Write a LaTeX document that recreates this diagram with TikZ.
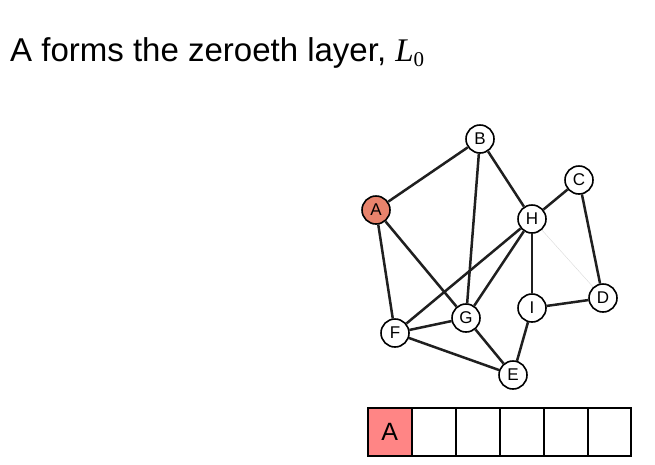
\documentclass[tikz,border=0pt]{standalone}
\usepackage{fontspec}
\setmainfont{Liberation Sans}
\newfontfamily\serifL{Liberation Serif}
\usetikzlibrary{backgrounds}
\definecolor{nodeA}{HTML}{E8836C}
\definecolor{cellA}{HTML}{FF8585}
\begin{document}
\begin{tikzpicture}[x=1pt,y=-1pt,
  vtx/.style={circle,draw=black,line width=1.6pt,fill=white,minimum size=28pt,inner sep=0pt,font=\fontsize{17}{17}\selectfont},
  edge/.style={line width=2.5pt,draw=black!88},
  cell/.style={draw=black,line width=1.6pt,minimum width=44pt,minimum height=48pt,inner sep=0pt,anchor=north west,font=\fontsize{25}{25}\selectfont}]
\useasboundingbox (0,0) rectangle (655,464);
\node[anchor=base west,inner sep=0pt,font=\fontsize{33}{33}\selectfont] (title) at (10,61) {A forms the zeroeth layer, {\serifL\itshape L}{\serifL\fontsize{21}{21}\selectfont\raisebox{-5pt}{0}}};
\node[vtx] (B) at (480,139) {B};
\node[vtx] (C) at (579,180) {C};
\node[vtx,fill=nodeA] (A) at (376,210) {A};
\node[vtx] (H) at (532,219) {H};
\node[vtx] (D) at (603,298) {D};
\node[vtx] (I) at (532,308) {I};
\node[vtx] (G) at (466,318) {G};
\node[vtx] (F) at (395,333) {F};
\node[vtx] (E) at (513,375) {E};
\begin{scope}[on background layer]
\draw[line width=0.4pt,draw=black!15] (H) -- (D);
\draw[edge] (A) -- (B);
\draw[edge] (A) -- (F);
\draw[edge] (A) -- (G);
\draw[edge] (B) -- (G);
\draw[edge] (B) -- (H);
\draw[edge] (C) -- (H);
\draw[edge] (C) -- (D);
\draw[edge] (H) -- (F);
\draw[edge] (H) -- (G);
\draw[edge] (H) -- (I);
\draw[edge] (I) -- (D);
\draw[edge] (I) -- (E);
\draw[edge] (G) -- (F);
\draw[edge] (G) -- (E);
\draw[edge] (F) -- (E);
\end{scope}
\node[cell,fill=cellA] (c1) at (367,407) {A};
\node[cell] (c2) at (411,407) {};
\node[cell] (c3) at (455,407) {};
\node[cell] (c4) at (499,407) {};
\node[cell] (c5) at (543,407) {};
\node[cell,minimum width=43pt] (c6) at (587,407) {};
\end{tikzpicture}
\end{document}
